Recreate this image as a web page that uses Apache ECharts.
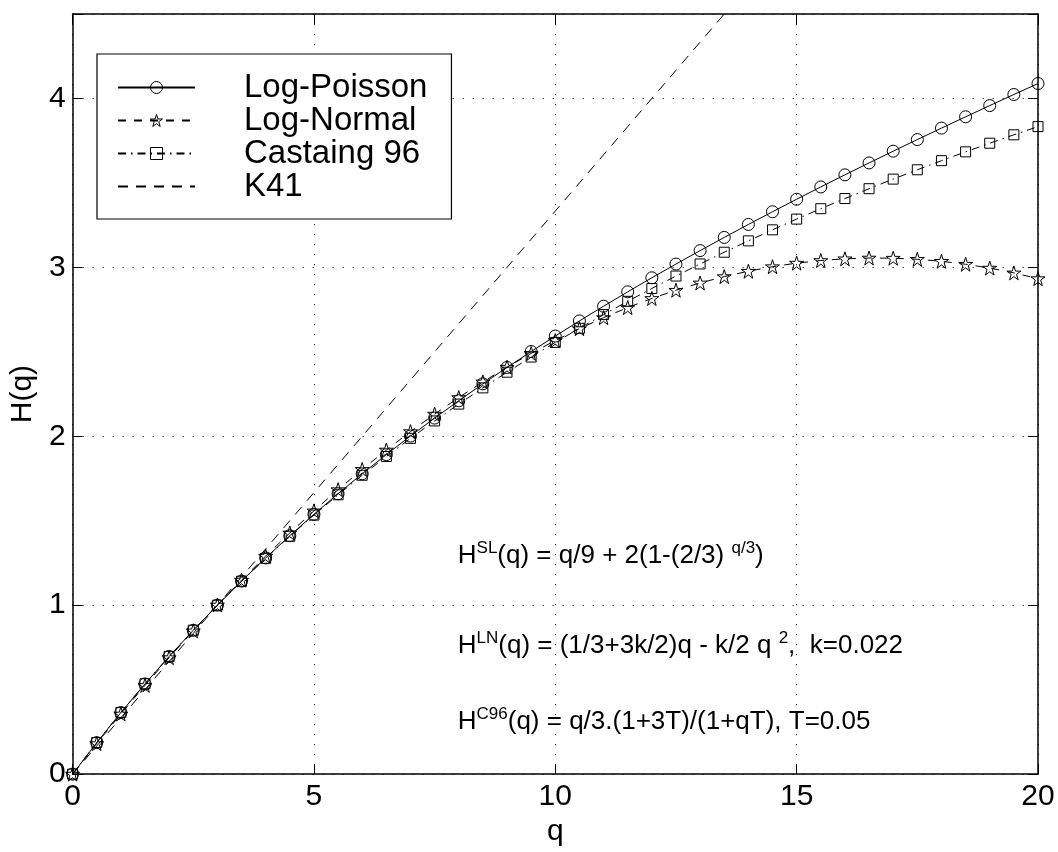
<!DOCTYPE html>
<html>
<head>
<meta charset="utf-8">
<script src="https://cdn.jsdelivr.net/npm/echarts@6/dist/echarts.min.js"></script>
<style>
html,body{margin:0;padding:0;background:#fff;}
#chart{width:1058px;height:852px;}
</style>
</head>
<body>
<div id="chart"></div>
<script>
const qValues = [0,0.5,1,1.5,2,2.5,3,3.5,4,4.5,5,5.5,6,6.5,7,7.5,8,8.5,9,9.5,10,10.5,11,11.5,12,12.5,13,13.5,14,14.5,15,15.5,16,16.5,17,17.5,18,18.5,19,19.5,20];
const logPoisson = [0,0.1862,0.3640,0.5337,0.6959,0.8512,1.0000,1.1427,1.2797,1.4113,1.5380,1.6601,1.7778,1.8914,2.0013,2.1076,2.2105,2.3104,2.4074,2.5017,2.5934,2.6828,2.7700,2.8551,2.9383,3.0196,3.0993,3.1774,3.2541,3.3293,3.4033,3.4761,3.5477,3.6183,3.6879,3.7566,3.8244,3.8914,3.9577,4.0233,4.0882];
const logNormal = [0,0.1806,0.3557,0.5253,0.6893,0.8479,1.0010,1.1486,1.2907,1.4273,1.5583,1.6839,1.8040,1.9186,2.0277,2.1313,2.2293,2.3219,2.4090,2.4906,2.5667,2.6373,2.7023,2.7619,2.8160,2.8646,2.9077,2.9453,2.9773,3.0039,3.0250,3.0406,3.0507,3.0553,3.0543,3.0479,3.0360,3.0186,2.9957,2.9673,2.9333];
const castaing96 = [0,0.1870,0.3651,0.5349,0.6970,0.8519,1.0000,1.1418,1.2778,1.4082,1.5333,1.6536,1.7692,1.8805,1.9877,2.0909,2.1905,2.2865,2.3793,2.4690,2.5556,2.6393,2.7204,2.7989,2.8750,2.9487,3.0202,3.0896,3.1569,3.2222,3.2857,3.3474,3.4074,3.4658,3.5225,3.5778,3.6316,3.6840,3.7350,3.7848,3.8333];
const k41 = [0,0.1667,0.3333,0.5,0.6667,0.8333,1,1.1667,1.3333,1.5,1.6667,1.8333,2,2.1667,2.3333,2.5,2.6667,2.8333,3,3.1667,3.3333,3.5,3.6667,3.8333,4,4.1667,4.3333,4.5,4.6667,4.8333,5,5.1667,5.3333,5.5,5.6667,5.8333,6,6.1667,6.3333,6.5,6.6667];
const seriesNames = ['Log-Poisson','Log-Normal','Castaing 96','K41'];
const formulaTexts = [
  '{n|H}{s|SL}{n|(q) = q/9 + 2(1-(2/3) }{s|q/3}{n|)}',
  '{n|H}{s|LN}{n|(q) = (1/3+3k/2)q - k/2 q }{s|2}{n|,  k=0.022}',
  '{n|H}{s|C96}{n|(q) = q/3.(1+3T)/(1+qT), T=0.05}'
];
const formulaAnchors = [[7.98,1.385],[7.98,0.855],[7.98,0.405]];

const FONT = '"Liberation Sans", Arial, Helvetica, sans-serif';
const starPath = 'path://M50,0 L61.8,35.4 L100,35.4 L69.1,57.3 L80.9,95.1 L50,72.4 L19.1,95.1 L30.9,57.3 L0,35.4 L38.2,35.4 Z';

function pairs(arr){ return qValues.map((q,i)=>[q, arr[i]]); }

const chart = echarts.init(document.getElementById('chart'), null, {renderer:'canvas'});

const axisCommon = {
  type: 'value',
  axisLine: {show:true, onZero:false, lineStyle:{color:'#000', width:1.5}},
  axisTick: {show:true, inside:true, length:10, lineStyle:{color:'#000', width:1}},
};

const markerStyle = {color:'rgba(0,0,0,0)', borderColor:'#000', borderWidth:1};
const hiddenMarker = {color:'rgba(0,0,0,0)', borderColor:'rgba(0,0,0,0)', borderWidth:0};

const option = {
  animation: false,
  backgroundColor: '#fff',
  textStyle: {fontFamily: FONT},
  grid: {left:68, right:20, top:14, bottom:72, containLabel:false},
  xAxis: [
    Object.assign({}, axisCommon, {
      position:'bottom', min:0, max:20, interval:5,
      name:'q', nameLocation:'middle', nameGap:39,
      nameTextStyle:{fontSize:30, color:'#000', fontFamily:FONT},
      axisLabel:{fontSize:30, color:'#000', margin:8, fontFamily:FONT},
      splitLine:{show:true, lineStyle:{color:'#222', width:1, type:[1.2,8.8]}}
    }),
    Object.assign({}, axisCommon, {
      position:'top', min:0, max:20, interval:5,
      axisLabel:{show:false}, splitLine:{show:false}
    })
  ],
  yAxis: [
    Object.assign({}, axisCommon, {
      position:'left', min:0, max:4.5, interval:1,
      name:'H(q)', nameLocation:'middle', nameGap:26, nameRotate:90,
      nameTextStyle:{fontSize:30, color:'#000', fontFamily:FONT},
      axisLabel:{fontSize:30, color:'#000', margin:7, fontFamily:FONT,
        formatter: v => (Math.abs(v - Math.round(v)) < 1e-9 ? String(Math.round(v)) : '')},
      splitLine:{show:true, lineStyle:{color:'#222', width:1, type:[1.2,8.8]}}
    }),
    Object.assign({}, axisCommon, {
      position:'right', min:0, max:4.5, interval:1,
      axisLabel:{show:false}, splitLine:{show:false}
    })
  ],
  legend: {
    orient:'vertical', left:97, top:54,
    backgroundColor:'#fff', borderColor:'#000', borderWidth:1.2,
    padding:[17,24,16,20],
    itemWidth:77, itemHeight:15, itemGap:0,
    data: [
      {name: seriesNames[0], itemStyle: markerStyle},
      {name: seriesNames[1], itemStyle: markerStyle},
      {name: seriesNames[2], itemStyle: markerStyle},
      {name: seriesNames[3], itemStyle: hiddenMarker}
    ],
    formatter: name => '{t|' + name + '}',
    textStyle:{
      color:'#000', fontFamily:FONT, fontSize:33,
      rich:{ t:{fontSize:33, lineHeight:32, color:'#000', fontFamily:FONT, padding:[0,0,0,44]} }
    }
  },
  series: [
    {
      name: seriesNames[0], type:'line', data: pairs(logPoisson),
      symbol:'circle', symbolSize:12, showAllSymbol:true,
      lineStyle:{color:'#000', width:1, type:'solid'},
      itemStyle: markerStyle, color:'#000', z:3
    },
    {
      name: seriesNames[1], type:'line', data: pairs(logNormal),
      symbol: starPath, symbolSize:14, showAllSymbol:true,
      lineStyle:{color:'#000', width:1, type:[8,8]},
      itemStyle: markerStyle, color:'#000', z:3
    },
    {
      name: seriesNames[2], type:'line', data: pairs(castaing96),
      symbol:'rect', symbolSize:10, showAllSymbol:true,
      lineStyle:{color:'#000', width:1, type:[8,5,1.5,5]},
      itemStyle: markerStyle, color:'#000', z:3
    },
    {
      name: seriesNames[3], type:'line', data: pairs(k41),
      symbol:'none', clip:true,
      lineStyle:{color:'#000', width:1, type:[10,8]},
      itemStyle: hiddenMarker, color:'#000', z:2
    }
  ]
};
chart.setOption(option);

const graphics = formulaTexts.map((txt, i) => {
  const p = chart.convertToPixel({gridIndex:0}, formulaAnchors[i]);
  return {
    type:'text', x:p[0], y:p[1], z:10,
    style:{
      text: txt,
      verticalAlign:'top', align:'left',
      rich:{
        n:{fontSize:26, lineHeight:32, fill:'#000', fontFamily:FONT, verticalAlign:'middle'},
        s:{fontSize:17, lineHeight:14, fill:'#000', fontFamily:FONT, verticalAlign:'top'}
      }
    }
  };
});
chart.setOption({graphic: graphics});
</script>
</body>
</html>
